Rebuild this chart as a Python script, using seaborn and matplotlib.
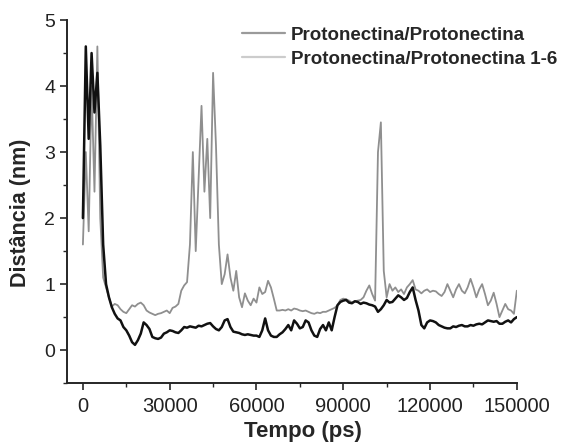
import numpy as np
import pandas as pd
import matplotlib.pyplot as plt
from matplotlib.lines import Line2D
from matplotlib.ticker import MultipleLocator
import seaborn as sns

# time axis (ps), one sample every 1000 ps
tempo = np.arange(0, 150001, 1000)

# Protonectina/Protonectina (dark trace)
dist_pp = [
    2.0, 4.6, 3.2, 4.5, 3.6, 4.2, 3.1, 1.6, 1.0, 0.8,
    0.65, 0.55, 0.48, 0.45, 0.35, 0.30, 0.22, 0.12, 0.08, 0.15,
    0.25, 0.42, 0.38, 0.32, 0.20, 0.18, 0.17, 0.19, 0.25, 0.27,
    0.30, 0.29, 0.27, 0.26, 0.30, 0.35, 0.34, 0.36, 0.35, 0.34,
    0.37, 0.36, 0.38, 0.40, 0.41, 0.36, 0.32, 0.30, 0.35, 0.45,
    0.47, 0.35, 0.28, 0.27, 0.26, 0.24, 0.23, 0.24, 0.23, 0.22,
    0.22, 0.20, 0.30, 0.48, 0.30, 0.22, 0.20, 0.20, 0.24, 0.27,
    0.32, 0.38, 0.30, 0.45, 0.40, 0.33, 0.35, 0.45, 0.42, 0.30,
    0.22, 0.20, 0.32, 0.38, 0.30, 0.42, 0.30, 0.50, 0.68, 0.73,
    0.75, 0.76, 0.72, 0.71, 0.74, 0.73, 0.70, 0.72, 0.71, 0.69,
    0.68, 0.66, 0.58, 0.62, 0.68, 0.76, 0.72, 0.73, 0.78, 0.83,
    0.80, 0.76, 0.79, 0.88, 0.95, 0.76, 0.60, 0.38, 0.33, 0.42,
    0.45, 0.44, 0.42, 0.38, 0.36, 0.34, 0.33, 0.33, 0.36, 0.35,
    0.37, 0.38, 0.36, 0.36, 0.38, 0.37, 0.39, 0.40, 0.39, 0.42,
    0.45, 0.44, 0.43, 0.44, 0.40, 0.40, 0.43, 0.45, 0.42, 0.47,
    0.50,
]

# Protonectina/Protonectina 1-6 (grey trace)
dist_pp16 = [
    1.6, 3.0, 1.8, 4.0, 2.4, 4.6, 2.0, 1.1, 0.95, 0.8,
    0.66, 0.70, 0.68, 0.62, 0.58, 0.56, 0.62, 0.68, 0.66, 0.70,
    0.72, 0.68, 0.60, 0.57, 0.55, 0.53, 0.55, 0.56, 0.58, 0.60,
    0.56, 0.64, 0.66, 0.70, 0.90, 0.98, 1.03, 1.6, 3.0, 1.5,
    2.6, 3.7, 2.4, 3.2, 2.0, 4.2, 3.1, 1.6, 1.0, 1.15,
    1.45, 1.1, 0.9, 1.2, 0.8, 0.65, 0.86, 0.75, 0.68, 0.78,
    0.72, 0.95, 0.85, 0.88, 1.05, 0.95, 0.78, 0.60, 0.60, 0.61,
    0.60, 0.62, 0.60, 0.63, 0.62, 0.60, 0.59, 0.60, 0.58, 0.56,
    0.55, 0.57, 0.56, 0.58, 0.58, 0.60, 0.62, 0.64, 0.68, 0.76,
    0.78, 0.77, 0.75, 0.72, 0.74, 0.75, 0.76, 0.80, 0.90, 0.98,
    0.85, 0.75, 3.0, 3.45, 1.2, 0.8, 1.0, 0.9, 0.95, 0.88,
    0.92, 0.85, 0.95, 1.0, 1.06, 0.92, 0.90, 0.86, 0.90, 0.92,
    0.88, 0.90, 0.89, 0.85, 0.82, 0.88, 1.0, 0.90, 0.80, 0.92,
    1.0, 0.90, 0.86, 0.95, 1.08, 0.95, 0.80, 0.92, 1.0, 0.85,
    0.68, 0.75, 0.87, 0.70, 0.50, 0.60, 0.70, 0.62, 0.60, 0.55,
    0.9,
]

labels = ["Protonectina/Protonectina", "Protonectina/Protonectina 1-6"]

sns.set_style("ticks")
plt.rcParams["font.family"] = ["Liberation Sans", "DejaVu Sans"]

df1 = pd.DataFrame({"tempo": tempo, "dist": dist_pp})
df2 = pd.DataFrame({"tempo": tempo, "dist": dist_pp16})

fig = plt.figure(figsize=(5.63, 4.45), dpi=100)
ax = fig.add_axes([0.119, 0.139, 0.799, 0.816])

sns.lineplot(data=df2, x="tempo", y="dist", color="#8f8f8f", lw=1.3, ax=ax)
sns.lineplot(data=df1, x="tempo", y="dist", color="#111111", lw=1.8, ax=ax)

ax.set_xlim(-5500, 150000)
ax.set_ylim(-0.5, 5)
ax.xaxis.set_major_locator(MultipleLocator(30000))
ax.xaxis.set_minor_locator(MultipleLocator(15000))
ax.yaxis.set_major_locator(MultipleLocator(1))
ax.yaxis.set_minor_locator(MultipleLocator(0.5))
ax.set_yticks([0, 1, 2, 3, 4, 5])
ax.tick_params(axis="both", which="major", direction="out", length=5,
               width=1.2, labelsize=14, labelcolor="#222222")
ax.tick_params(axis="x", which="major", labelsize=14.5, pad=5)
ax.tick_params(axis="both", which="minor", direction="out", length=3, width=1.0)
ax.set_xlabel("Tempo (ps)", fontsize=16, fontweight="bold")
ax.set_ylabel("Distância (nm)", fontsize=15.5, fontweight="bold")
ax.xaxis.set_label_coords(0.524, -0.105)
ax.yaxis.set_label_coords(-0.08, 0.47)

for side in ["top", "right"]:
    ax.spines[side].set_visible(False)
for side in ["left", "bottom"]:
    ax.spines[side].set_linewidth(1.4)

handles = [Line2D([], [], color="#9a9a9a", lw=1.6),
           Line2D([], [], color="#cccccc", lw=1.6)]
fig.legend(handles, labels, loc="upper left", bbox_to_anchor=(0.43, 0.94),
           frameon=False, borderpad=0, borderaxespad=0,
           handlelength=2.3, handletextpad=0.3, labelspacing=0.35,
           prop={"weight": "bold", "size": 13.5})

fig.savefig("out.png", dpi=100)
